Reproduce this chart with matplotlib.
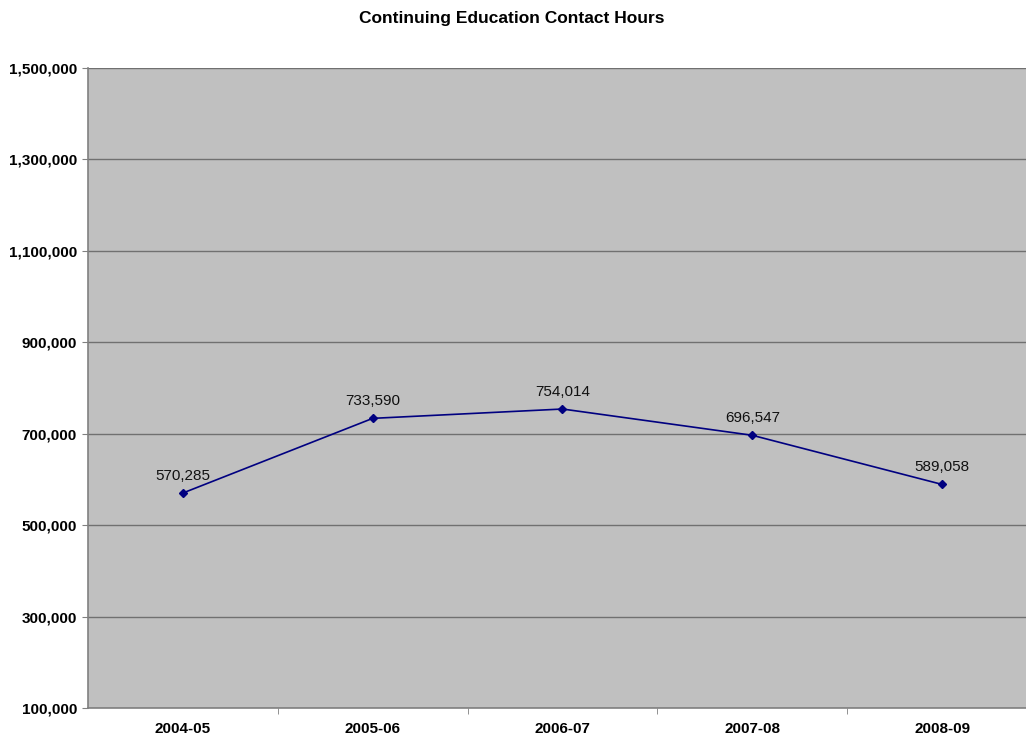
import matplotlib
matplotlib.use("Agg")
import matplotlib.pyplot as plt
from matplotlib.ticker import FuncFormatter, FixedLocator

plt.rcParams['font.family'] = ['Liberation Sans', 'DejaVu Sans']

categories = ["2004-05", "2005-06", "2006-07", "2007-08", "2008-09"]
values = [570285, 733590, 754014, 696547, 589058]
yticks = [100000, 300000, 500000, 700000, 900000, 1100000, 1300000, 1500000]
title = "Continuing Education Contact Hours"

fig = plt.figure(figsize=(10.26, 7.41), dpi=100)
fig.patch.set_facecolor("white")
ax = fig.add_axes([88/1026, 1 - 708/741, 949/1026, 640/741])
ax.set_facecolor("#C0C0C0")

x = list(range(len(categories)))
ax.plot(x, values, color="#000080", lw=1.2, marker="D", ms=4.5,
        markerfacecolor="#000080", markeredgecolor="#000080", zorder=3)
for xi, v in zip(x, values):
    ax.annotate(f"{v:,}", (xi, v), xytext=(0, 7.5), textcoords="offset points",
                ha="center", va="bottom", fontsize=11, color="#111111")

ax.set_xlim(-0.5, len(categories) - 0.5)
ax.set_ylim(yticks[0], yticks[-1])
ax.set_yticks(yticks)
ax.yaxis.set_major_formatter(FuncFormatter(lambda v, p: f"{int(v):,}"))
ax.set_xticks(x)
ax.set_xticklabels(categories)
ax.xaxis.set_minor_locator(FixedLocator([i + 0.5 for i in range(len(categories) - 1)]))
ax.tick_params(axis="x", which="major", length=0, pad=10, labelsize=11)
ax.tick_params(axis="x", which="minor", length=4, color="#808080", direction="out")
ax.tick_params(axis="y", length=4, color="#808080", direction="out", pad=4, labelsize=11)
for lbl in ax.get_xticklabels() + ax.get_yticklabels():
    lbl.set_fontweight("bold")

ax.grid(axis="y", color="#707070", lw=1.0)
ax.set_axisbelow(True)
for s in ["top", "right"]:
    ax.spines[s].set_visible(False)
ax.spines["left"].set_color("#808080")
ax.spines["bottom"].set_color("#808080")
ax.spines["left"].set_linewidth(1.2)
ax.spines["bottom"].set_linewidth(1.2)

fig.text(512/1026, 1 - 18/741, title, ha="center", va="center",
         fontsize=12.5, fontweight="bold")

fig.savefig("out.png", dpi=100)
